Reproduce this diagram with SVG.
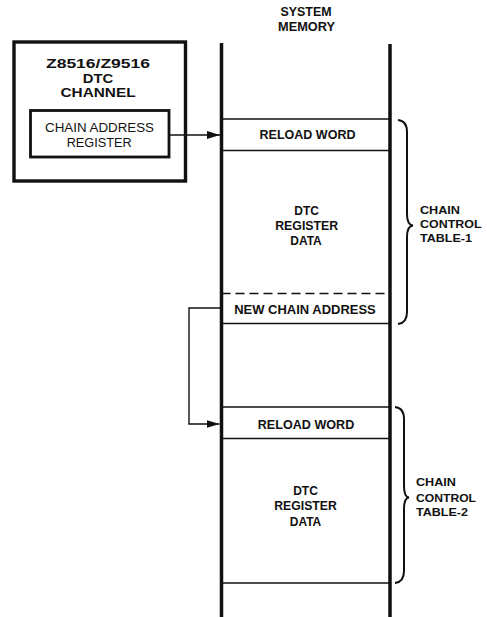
<svg xmlns="http://www.w3.org/2000/svg" width="487" height="617" viewBox="0 0 487 617">
<style>
text{font-family:"Liberation Sans",Arial,sans-serif;fill:#111;text-anchor:middle}
.b{font-weight:bold;font-size:12px}
.r{font-size:12.5px}
.t{font-weight:bold;font-size:13.5px}
.lbl{font-weight:bold;font-size:11.5px;text-anchor:start}
.box{fill:none;stroke:#111}
.mem{stroke:#111;stroke-width:3.5;fill:none}
.row{stroke:#111;stroke-width:1.6;fill:none}
.brace{stroke:#111;stroke-width:2;fill:none}
.conn{stroke:#111;stroke-width:1.4;fill:none}
</style>
<defs>
<marker id="arr" markerUnits="userSpaceOnUse" markerWidth="14" markerHeight="10" refX="13" refY="4.5" orient="auto">
<path d="M0,0.5 L13,4.5 L0,8.5 Z" fill="#111"/>
</marker>
</defs>
<rect width="487" height="617" fill="#fff"/>

<g id="dtc-channel">
<rect class="box" x="14" y="42" width="171.5" height="139" stroke-width="3.4"/>
<text class="t" x="98" y="68" textLength="104" lengthAdjust="spacingAndGlyphs">Z8516/Z9516</text>
<text class="t" x="98" y="83" textLength="30.5" lengthAdjust="spacingAndGlyphs">DTC</text>
<text class="t" x="98" y="97" textLength="75" lengthAdjust="spacingAndGlyphs">CHANNEL</text>
</g>

<g id="chain-address-register">
<rect class="box" x="30.5" y="110.5" width="138.5" height="46.5" stroke-width="2.8"/>
<text class="r" x="99.5" y="132" textLength="109" lengthAdjust="spacingAndGlyphs">CHAIN ADDRESS</text>
<text class="r" x="99.2" y="146.5" textLength="65" lengthAdjust="spacingAndGlyphs">REGISTER</text>
</g>

<g id="system-memory">
<text class="b" x="306" y="16" textLength="51" lengthAdjust="spacingAndGlyphs">SYSTEM</text>
<text class="b" x="306.5" y="31" textLength="57" lengthAdjust="spacingAndGlyphs">MEMORY</text>
<line class="mem" x1="221.5" y1="43" x2="221.5" y2="617"/>
<line class="mem" x1="390" y1="44" x2="390" y2="617"/>
</g>

<g id="reload-word-1">
<line class="row" x1="221.5" y1="119" x2="390" y2="119"/>
<line class="row" x1="221.5" y1="150.5" x2="390" y2="150.5"/>
<text class="b" x="307.5" y="139.3" textLength="96" lengthAdjust="spacingAndGlyphs">RELOAD WORD</text>
</g>

<g id="dtc-register-data-1">
<text class="b" x="306.7" y="214.5">DTC</text>
<text class="b" x="306.7" y="229.8" textLength="63" lengthAdjust="spacingAndGlyphs">REGISTER</text>
<text class="b" x="306" y="245.2">DATA</text>
</g>

<g id="new-chain-address">
<line class="row" x1="221.5" y1="293.5" x2="390" y2="293.5" stroke-dasharray="9,5"/>
<line class="row" x1="221.5" y1="323.5" x2="390" y2="323.5"/>
<text class="b" x="305" y="313.5" textLength="141.5" lengthAdjust="spacingAndGlyphs">NEW CHAIN ADDRESS</text>
</g>

<g id="reload-word-2">
<line class="row" x1="221.5" y1="407" x2="390" y2="407"/>
<line class="row" x1="221.5" y1="438.5" x2="390" y2="438.5"/>
<text class="b" x="306" y="428.5" textLength="96.5" lengthAdjust="spacingAndGlyphs">RELOAD WORD</text>
</g>

<g id="dtc-register-data-2">
<text class="b" x="305.5" y="494.6">DTC</text>
<text class="b" x="305.5" y="510.2" textLength="62.5" lengthAdjust="spacingAndGlyphs">REGISTER</text>
<text class="b" x="305.5" y="525.6">DATA</text>
<line class="row" x1="221.5" y1="583" x2="390" y2="583"/>
</g>

<g id="chain-control-table-1">
<path class="brace" d="M398,120 Q407,121 407,132 L407,214 Q407,225 413,225.5 Q407,226 407,237 L407,312 Q407,323 398,324"/>
<text class="lbl" x="420" y="214" textLength="40" lengthAdjust="spacingAndGlyphs">CHAIN</text>
<text class="lbl" x="420" y="227.8" textLength="61.5" lengthAdjust="spacingAndGlyphs">CONTROL</text>
<text class="lbl" x="420" y="241.6" textLength="52" lengthAdjust="spacingAndGlyphs">TABLE-1</text>
</g>

<g id="chain-control-table-2">
<path class="brace" d="M395,407 Q404,408 404,419 L404,486 Q404,497 409,497.5 Q404,498 404,509 L404,571 Q404,582 395,583"/>
<text class="lbl" x="416" y="486" textLength="40" lengthAdjust="spacingAndGlyphs">CHAIN</text>
<text class="lbl" x="416" y="501.7" textLength="60" lengthAdjust="spacingAndGlyphs">CONTROL</text>
<text class="lbl" x="416" y="516" textLength="52" lengthAdjust="spacingAndGlyphs">TABLE-2</text>
</g>

<g id="connectors">
<path class="conn" d="M169,135 L220,135" marker-end="url(#arr)"/>
<path class="conn" d="M221,308 L189,308 L189,424 L219.5,424" marker-end="url(#arr)"/>
</g>
</svg>
